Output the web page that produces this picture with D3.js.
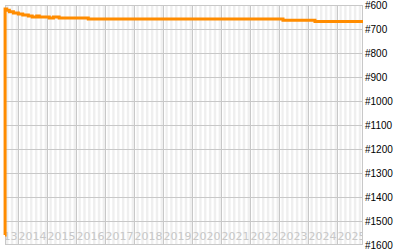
<!DOCTYPE html>
<html lang="en">
<head>
  <meta charset="UTF-8">
  <title>Rank history</title>
  <script src="https://d3js.org/d3.v7.min.js"></script>
  <style>
    html, body { margin: 0; padding: 0; background: #fff; }
    svg { display: block; }
  </style>
</head>
<body>
  <div id="chart"></div>
  <script>
    // rank change points (step line)
    const dates = [
      "2013-07-20", "2013-07-21", "2013-08-11", "2013-09-13", "2013-11-03",
      "2014-01-04", "2014-03-01", "2014-05-10", "2014-06-28", "2014-08-23",
      "2014-09-25", "2015-01-29", "2015-03-22", "2015-06-02", "2016-06-03",
      "2023-02-20", "2024-03-29", "2025-11-24"
    ];
    const ranks = [
      1558, 617, 622, 628, 633,
      637, 642, 646, 650, 646,
      650, 654, 650, 654, 658,
      664, 669, 669
    ];
    const yTicks = [600, 700, 800, 900, 1000, 1100, 1200, 1300, 1400, 1500, 1600];
    const years = [2013, 2014, 2015, 2016, 2017, 2018, 2019, 2020, 2021, 2022, 2023, 2024, 2025];

    const parse = d3.timeParse("%Y-%m-%d");
    const data = dates.map((d, i) => ({ date: parse(d), rank: ranks[i] }));

    const W = 400, H = 250;
    const box = { left: 5, right: 363, top: 5, bottom: 245 };

    const x = d3.scaleTime()
      .domain([parse("2013-07-20"), parse("2025-11-24")])
      .range([box.left, box.right]);

    const y = d3.scaleLinear()
      .domain([600, 1600])
      .range([box.top, box.bottom]);

    const svg = d3.select("#chart").append("svg")
      .attr("width", W)
      .attr("height", H);

    svg.append("clipPath").attr("id", "plot")
      .append("rect")
      .attr("x", box.left).attr("y", box.top)
      .attr("width", box.right - box.left).attr("height", box.bottom - box.top);

    const plot = svg.append("g").attr("clip-path", "url(#plot)");

    // month stripes
    const months = d3.timeMonth.range(d3.timeYear.floor(x.domain()[0]), x.domain()[1]);
    plot.selectAll("rect.stripe")
      .data(months.filter(m => m.getMonth() % 2 === 1))
      .join("rect")
      .attr("class", "stripe")
      .attr("x", d => x(d))
      .attr("y", box.top)
      .attr("width", d => x(d3.timeMonth.offset(d, 1)) - x(d))
      .attr("height", box.bottom - box.top)
      .attr("fill", "#efefef");

    // horizontal grid
    plot.selectAll("line.hgrid")
      .data(yTicks)
      .join("line")
      .attr("class", "hgrid")
      .attr("x1", box.left).attr("x2", box.right)
      .attr("y1", d => Math.round(y(d)) + 0.5)
      .attr("y2", d => Math.round(y(d)) + 0.5)
      .attr("stroke", "#c8c8c8");

    // year grid
    const yearStarts = years.map(yr => new Date(yr, 0, 1));
    plot.selectAll("line.vgrid")
      .data(yearStarts)
      .join("line")
      .attr("class", "vgrid")
      .attr("x1", d => Math.round(x(d)) + 0.5)
      .attr("x2", d => Math.round(x(d)) + 0.5)
      .attr("y1", box.top).attr("y2", box.bottom)
      .attr("stroke", "#c8c8c8");

    // year labels
    plot.selectAll("text.year")
      .data(years)
      .join("text")
      .attr("class", "year")
      .attr("x", yr => (x(new Date(yr, 0, 1)) + x(new Date(yr + 1, 0, 1))) / 2)
      .attr("y", 240)
      .attr("text-anchor", "middle")
      .attr("font-family", "DejaVu Sans")
      .attr("font-size", "11px")
      .attr("fill", "#c8c8c8")
      .text(yr => yr);

    // plot frame
    svg.append("rect")
      .attr("x", box.left + 0.5).attr("y", box.top + 0.5)
      .attr("width", box.right - box.left - 1).attr("height", box.bottom - box.top - 1)
      .attr("fill", "none")
      .attr("stroke", "#c8c8c8");

    // rank line
    const line = d3.line()
      .x(d => x(d.date))
      .y(d => y(d.rank))
      .curve(d3.curveStepAfter);

    svg.append("path")
      .datum(data)
      .attr("fill", "none")
      .attr("stroke", "#ff8c00")
      .attr("stroke-width", 3)
      .attr("d", line);

    // right axis labels
    svg.selectAll("text.ylab")
      .data(yTicks)
      .join("text")
      .attr("class", "ylab")
      .attr("x", 365)
      .attr("y", d => y(d))
      .attr("dy", "0.35em")
      .attr("font-family", "Liberation Sans, Arial, sans-serif")
      .attr("font-size", "10px")
      .attr("fill", "#000")
      .text(d => "#" + d);
  </script>
</body>
</html>
